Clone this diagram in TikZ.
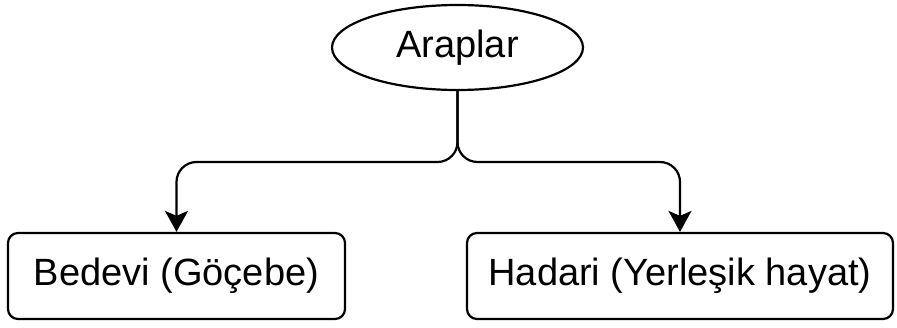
\documentclass[tikz,border=0pt]{standalone}
\usepackage{fontspec}
\setmainfont{Liberation Sans}
\usetikzlibrary{shapes.geometric,arrows.meta}
\begin{document}
\begin{tikzpicture}[x=1pt,y=1pt,
  lw/.style={line width=2.2pt},
  topnode/.style={draw,lw,ellipse,minimum width=251pt,minimum height=85pt,inner sep=0pt,font=\fontsize{38}{44}\selectfont},
  leafbox/.style={draw,lw,rounded corners=10pt,minimum height=86pt,inner sep=0pt,font=\fontsize{38}{44}\selectfont},
  conn/.style={lw,rounded corners=20pt,-{Stealth[length=21pt,width=23pt,inset=5pt]}}]
\useasboundingbox (0,0) rectangle (897,327);
\node[topnode] (a) at (457.5,279.5) {Araplar};
\node[leafbox,minimum width=337pt] (b) at (176.5,51) {Bedevi (Göçebe)};
\node[leafbox,minimum width=426pt] (c) at (680,51) {Hadari (Yerleşik hayat)};
\coordinate (m) at (457.5,165);
\draw[conn] (a.south) -- (m) -| (b.north);
\draw[conn] (a.south) -- (m) -| (c.north);
\end{tikzpicture}
\end{document}
